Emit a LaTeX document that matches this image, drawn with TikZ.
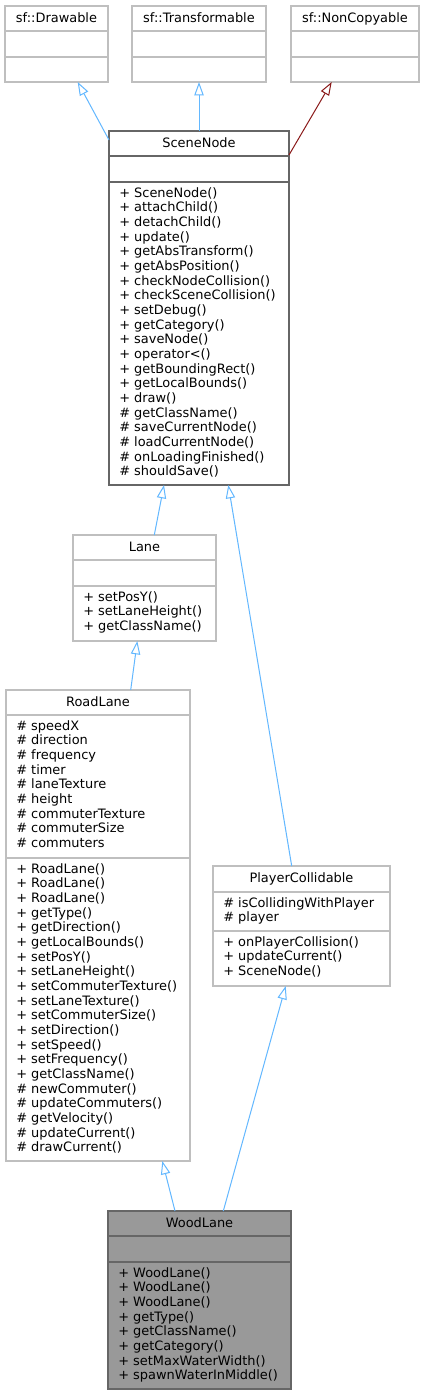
\documentclass[tikz,border=0pt]{standalone}
\usepackage{fontspec}
\setmainfont{DejaVu Sans}
\usetikzlibrary{arrows.meta,fit,calc}
\definecolor{ubord}{HTML}{BFBFBF}
\definecolor{dbord}{HTML}{666666}
\definecolor{curfill}{HTML}{999999}
\definecolor{pubedge}{HTML}{63B8FF}
\definecolor{priedge}{HTML}{8B1A1A}
\begin{document}
\begin{tikzpicture}[x=0.75pt,y=-0.75pt,
  box/.style={draw=ubord, line width=1pt, inner sep=0pt, outer sep=0pt, fill=white},
  docbox/.style={box, draw=dbord},
  curbox/.style={box, draw=dbord, fill=curfill},
  usep/.style={draw=ubord, line width=1pt},
  dsep/.style={draw=dbord, line width=1pt},
  title/.style={anchor=base, inner sep=0pt, font=\fontsize{9.7pt}{11pt}\selectfont},
  members/.style={anchor=north west, inner sep=0pt, align=left, font=\fontsize{9.7pt}{11pt}\selectfont},
  inh/.style={draw=pubedge, line width=0.75pt, -{Triangle[open,length=10pt,width=7pt]}},
  priv/.style={inh, draw=priedge}]
\useasboundingbox (0,0) rectangle (425,1396);
\fill[white] (0,0) rectangle (425,1396);

% sf::Drawable
\node[box, fit={(5,6) (108,82)}] (drawable) {};
\draw[usep] (5,31) -- (108,31);
\draw[usep] (5,57) -- (108,57);
\node[title] (drawablet) at (56.5,22) {sf::Drawable};

% sf::Transformable
\node[box, fit={(132,6) (266,82)}] (transformable) {};
\draw[usep] (132,31) -- (266,31);
\draw[usep] (132,57) -- (266,57);
\node[title] (transformablet) at (199,22) {sf::Transformable};

% sf::NonCopyable
\node[box, fit={(291,6) (419,82)}] (noncopyable) {};
\draw[usep] (291,31) -- (419,31);
\draw[usep] (291,57) -- (419,57);
\node[title] (noncopyablet) at (355,22) {sf::NonCopyable};

% SceneNode
\node[docbox, fit={(109,131) (289,485)}] (scene) {};
\draw[dsep] (109,156) -- (289,156);
\draw[dsep] (109,182) -- (289,182);
\node[title] (scenet) at (199,147) {SceneNode};
\node[members] (scenem) at (119,186.7) {\strut+ SceneNode()\\
\strut+ attachChild()\\
\strut+ detachChild()\\
\strut+ update()\\
\strut+ getAbsTransform()\\
\strut+ getAbsPosition()\\
\strut+ checkNodeCollision()\\
\strut+ checkSceneCollision()\\
\strut+ setDebug()\\
\strut+ getCategory()\\
\strut+ saveNode()\\
\strut+ operator<()\\
\strut+ getBoundingRect()\\
\strut+ getLocalBounds()\\
\strut+ draw()\\
\strut\# getClassName()\\
\strut\# saveCurrentNode()\\
\strut\# loadCurrentNode()\\
\strut\# onLoadingFinished()\\
\strut\# shouldSave()};

% Lane
\node[box, fit={(73,535) (216,641)}] (lane) {};
\draw[usep] (73,560) -- (216,560);
\draw[usep] (73,586) -- (216,586);
\node[title] (lanet) at (144.5,551) {Lane};
\node[members] (lanem) at (83,590.7) {\strut+ setPosY()\\
\strut+ setLaneHeight()\\
\strut+ getClassName()};

% RoadLane
\node[box, fit={(6,690) (190,1161)}] (road) {};
\draw[usep] (6,715) -- (190,715);
\draw[usep] (6,858) -- (190,858);
\node[title] (roadt) at (98,706) {RoadLane};
\node[members] (roada) at (16,719.7) {\strut\# speedX\\
\strut\# direction\\
\strut\# frequency\\
\strut\# timer\\
\strut\# laneTexture\\
\strut\# height\\
\strut\# commuterTexture\\
\strut\# commuterSize\\
\strut\# commuters};
\node[members] (roadm) at (16,862.7) {\strut+ RoadLane()\\
\strut+ RoadLane()\\
\strut+ RoadLane()\\
\strut+ getType()\\
\strut+ getDirection()\\
\strut+ getLocalBounds()\\
\strut+ setPosY()\\
\strut+ setLaneHeight()\\
\strut+ setCommuterTexture()\\
\strut+ setLaneTexture()\\
\strut+ setCommuterSize()\\
\strut+ setDirection()\\
\strut+ setSpeed()\\
\strut+ setFrequency()\\
\strut+ getClassName()\\
\strut\# newCommuter()\\
\strut\# updateCommuters()\\
\strut\# getVelocity()\\
\strut\# updateCurrent()\\
\strut\# drawCurrent()};

% PlayerCollidable
\node[box, fit={(213,866) (390,986)}] (player) {};
\draw[usep] (213,892) -- (390,892);
\draw[usep] (213,931) -- (390,931);
\node[title] (playert) at (301.5,882) {PlayerCollidable};
\node[members] (playera) at (223,896.7) {\strut\# isCollidingWithPlayer\\
\strut\# player};
\node[members] (playerm) at (223,935.7) {\strut+ onPlayerCollision()\\
\strut+ updateCurrent()\\
\strut+ SceneNode()};

% WoodLane
\node[curbox, fit={(108,1211) (291,1389)}] (wood) {};
\draw[dsep] (108,1236) -- (291,1236);
\draw[dsep] (108,1262) -- (291,1262);
\node[title] (woodt) at (199.5,1227) {WoodLane};
\node[members] (woodm) at (118,1266.7) {\strut+ WoodLane()\\
\strut+ WoodLane()\\
\strut+ WoodLane()\\
\strut+ getType()\\
\strut+ getClassName()\\
\strut+ getCategory()\\
\strut+ setMaxWaterWidth()\\
\strut+ spawnWaterInMiddle()};

% inheritance edges
\draw[inh] ($(scene.north west)+(0,9)$) -- ($(drawable.south)+(21.2,0)$);
\draw[inh] (scene.north) -- (transformable.south);
\draw[priv] ($(scene.north east)+(0,24)$) -- ($(noncopyable.south)+(-23.3,0)$);
\draw[inh] ($(lane.north)+(9.8,0)$) -- ($(scene.south)+(-35,0)$);
\draw[inh] ($(player.north)+(-9.8,0)$) -- ($(scene.south)+(29.3,0)$);
\draw[inh] ($(road.north)+(32.7,0)$) -- ($(lane.south)+(-7.2,0)$);
\draw[inh] ($(wood.north)+(-24.5,0)$) -- ($(road.south)+(64.3,0)$);
\draw[inh] ($(wood.north)+(23.8,0)$) -- ($(player.south)+(-15.8,0)$);
\end{tikzpicture}
\end{document}
